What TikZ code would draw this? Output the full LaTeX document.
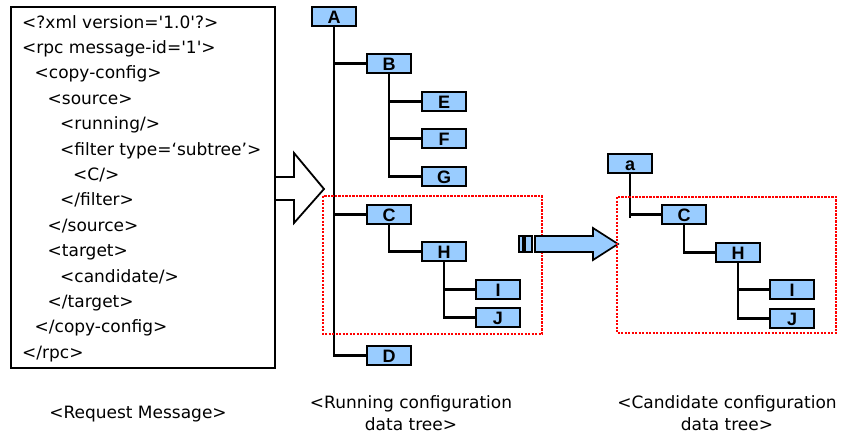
\documentclass[tikz,border=0pt]{standalone}
\usepackage{fontspec}
\setmainfont{DejaVu Sans}[Ligatures=TeXOff]
\newfontfamily\boxfont{Liberation Sans}
\definecolor{nodeblue}{RGB}{153,204,255}
\definecolor{framered}{RGB}{255,0,0}
\begin{document}
\begin{tikzpicture}[x=1pt,y=-1pt,
  treebox/.style={draw=black, line width=2.2pt, fill=nodeblue,
    minimum width=44pt, minimum height=19pt, inner sep=0pt,
    text height=14.6pt, text depth=0pt,
    font=\boxfont\bfseries\fontsize{18}{18}\selectfont},
  xmlline/.style={anchor=base west, inner sep=0pt, font=\fontsize{17}{20}\selectfont},
  link/.style={line width=2.2pt, draw=black},
  caption/.style={align=center, inner sep=0pt, anchor=north,
    font=\fontsize{17}{22}\selectfont},
  subframe/.style={draw=framered, line width=2.2pt, dash pattern=on 2.2pt off 1.3pt},
]
\useasboundingbox (0,0) rectangle (844,434);

% request message box
\node[draw=black, line width=2.2pt, minimum width=264pt, minimum height=361pt,
      inner sep=0pt] (msgbox) at (143,187.5) {};
\foreach \txt/\ind [count=\i from 0] in {
  {<?xml version='1.0'?>}/22,
  {<rpc message-id='1'>}/22,
  {<copy-config>}/34.5,
  {<source>}/47.5,
  {<running/>}/60,
  {<filter type=‘subtree’>}/60,
  {<C/>}/73,
  {</filter>}/60,
  {</source>}/47.5,
  {<target>}/47.5,
  {<candidate/>}/60,
  {</target>}/47.5,
  {</copy-config>}/34.5,
  {</rpc>}/22}
  \node[xmlline] (xml\i) at (\ind, 28+25.4*\i) {\txt};

% hollow arrow out of the message box
\draw[line width=1.8pt, line join=miter]
  (275,177) -- (294,177) -- (294,153) -- (324,189) -- (294,223) -- (294,200) -- (275,200);

% running configuration tree
\node[treebox] (A) at (334,16.5) {A};
\node[treebox] (B) at (389,63.5) {B};
\node[treebox] (E) at (444,101.5) {E};
\node[treebox] (F) at (444,138.5) {F};
\node[treebox] (G) at (444,176.5) {G};
\node[treebox] (C) at (389,214.5) {C};
\node[treebox] (H) at (444,251.5) {H};
\node[treebox] (I) at (498,289.5) {I};
\node[treebox] (J) at (498,317.5) {J};
\node[treebox] (D) at (389,355.5) {D};

\draw[link] (A.south) |- (B.west);
\draw[link] (A.south) |- (C.west);
\draw[link] (A.south) |- (D.west);
\draw[link] (B.south) |- (E.west);
\draw[link] (B.south) |- (F.west);
\draw[link] (B.south) |- (G.west);
\draw[link] (C.south) |- (H.west);
\draw[link] (H.south) |- (I.west);
\draw[link] (H.south) |- (J.west);

\draw[subframe] (323,196) rectangle (542,334);

% copy arrow
\begin{scope}[line width=1.7pt, fill=nodeblue, draw=black]
  \filldraw (519,236) rectangle (523,252);
  \filldraw (525,236) rectangle (532,252);
  \filldraw (535,236) -- (593,236) -- (593,228) -- (618,244) -- (593,260)
    -- (593,252) -- (535,252) -- cycle;
\end{scope}

% candidate configuration tree
\node[treebox] (a) at (630,163.5) {a};
\node[treebox] (C2) at (684,214.5) {C};
\node[treebox] (H2) at (738,252.5) {H};
\node[treebox] (I2) at (792,289.5) {I};
\node[treebox] (J2) at (792,318.5) {J};
\coordinate (aend) at (630,217.5);

\draw[link] (a.south) -- (aend);
\draw[link] (a.south |- C2.west) -- (C2.west);
\draw[link] (C2.south) |- (H2.west);
\draw[link] (H2.south) |- (I2.west);
\draw[link] (H2.south) |- (J2.west);

\draw[subframe] (617,197) rectangle (836,333);

% captions
\node[anchor=base, inner sep=0pt, font=\fontsize{17}{20}\selectfont]
  (capmsg) at (138,418) {<Request Message>};
\node[caption] (caprun) at (411,395) {<Running configuration\\data tree>};
\node[caption] (capcand) at (727,395) {<Candidate configuration\\data tree>};
\end{tikzpicture}
\end{document}
